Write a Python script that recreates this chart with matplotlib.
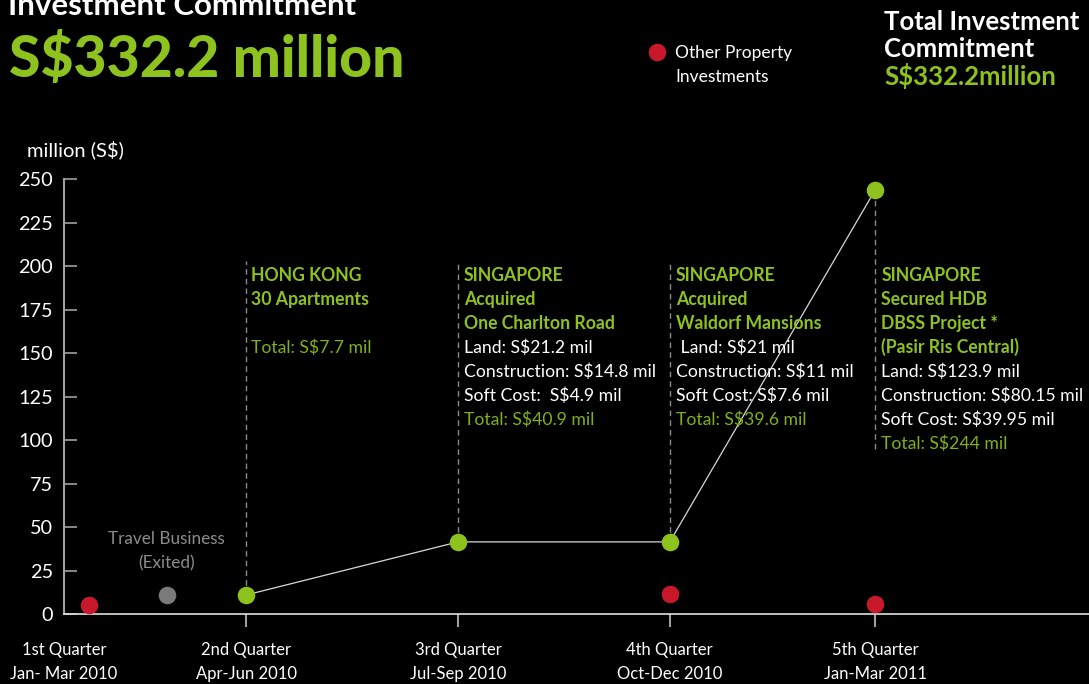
import matplotlib.pyplot as plt
import matplotlib.transforms as mtransforms

plt.rcParams['font.family'] = ['Lato', 'DejaVu Sans']

# data
quarter_labels = ["1st Quarter\nJan- Mar 2010", "2nd Quarter\nApr-Jun 2010",
                  "3rd Quarter\nJul-Sep 2010", "4th Quarter\nOct-Dec 2010",
                  "5th Quarter\nJan-Mar 2011"]
quarter_pos = [1.13, 2, 3.01, 4.02, 5]

property_x = [2, 3.01, 4.02, 5]
property_val = [11, 41.5, 41.5, 244]

other_x = [1.25, 4.02, 5]
other_val = [5, 11.5, 5.5]

travel_x = [1.62]
travel_val = [11]

# annotation blocks: (x, lowest value of the guide, lines)
notes = [
    (2, 10.9, [("HONG KONG", "h"), ("30 Apartments", "h"), ("", "d"),
               ("Total: S$7.7 mil", "t")]),
    (3.01, 41.5, [("SINGAPORE", "h"), ("Acquired", "h"), ("One Charlton Road", "h"),
                  ("Land: S$21.2 mil", "d"), ("Construction: S$14.8 mil", "d"),
                  ("Soft Cost:  S$4.9 mil", "d"), ("Total: S$40.9 mil", "t")]),
    (4.02, 41.5, [("SINGAPORE", "h"), ("Acquired", "h"), ("Waldorf Mansions", "h"),
                  (" Land: S$21 mil", "d"), ("Construction: S$11 mil", "d"),
                  ("Soft Cost: S$7.6 mil", "d"), ("Total: S$39.6 mil", "t")]),
    (5, 95, [("SINGAPORE", "h"), ("Secured HDB", "h"), ("DBSS Project *", "h"),
             ("(Pasir Ris Central)", "h"), ("Land: S$123.9 mil", "d"),
             ("Construction: S$80.15 mil", "d"), ("Soft Cost: S$39.95 mil", "d"),
             ("Total: S$244 mil", "t")]),
]

GREEN = "#8dc21f"
GREEN_DARK = "#7fb01a"
RED = "#c8192b"
GREY = "#7a7a7a"

fig = plt.figure(figsize=(10.89, 6.84), dpi=100, facecolor="black")
ax = fig.add_axes([0.0588, 0.1023, 0.9412, 0.6353], facecolor="black")
ax.set_xlim(1.13, 6.02)
ax.set_ylim(0, 250)

# vertical dashed guides
for x, low, lines in notes:
    top = 203 if x != 5 else 244
    ax.plot([x, x], [low, top], color="#8a8a8a", lw=1, ls=(0, (4, 3)), zorder=1)

ax.plot(property_x, property_val, color="#d8d8d8", lw=0.9, zorder=2)
ax.scatter(property_x, property_val, s=160, color=GREEN, zorder=3, linewidths=0)
ax.scatter(other_x, other_val, s=160, color=RED, zorder=3, linewidths=0)
ax.scatter(travel_x, travel_val, s=160, color=GREY, zorder=3, linewidths=0)

ax.text(travel_x[0], 43.2, "Travel Business", color="#8c8c8c",
        ha="center", va="center", fontsize=12.3)
ax.text(travel_x[0], 29.3, "(Exited)", color="#8c8c8c",
        ha="center", va="center", fontsize=12.3)

styles = {"h": dict(color=GREEN, fontweight="bold"),
          "d": dict(color="white"),
          "t": dict(color=GREEN_DARK)}
for x, low, lines in notes:
    dx = 5 if x == 2 else 6
    trans = ax.transData + mtransforms.ScaledTranslation(dx / 100, 0, fig.dpi_scale_trans)
    for i, (txt, st) in enumerate(lines):
        tr = trans + mtransforms.ScaledTranslation(0, -i * 24 / 100, fig.dpi_scale_trans)
        ax.text(x, 194.8, txt, transform=tr, ha="left", va="center",
                fontsize=12.7, **styles[st])

# axes styling
for s in ("top", "right"):
    ax.spines[s].set_visible(False)
ax.spines["left"].set_color("#a0a0a0")
ax.spines["left"].set_linewidth(1.5)
ax.spines["bottom"].set_color("#e0e0e0")
ax.spines["bottom"].set_linewidth(1.2)

ax.set_yticks(range(0, 251, 25))
ax.tick_params(axis="y", direction="in", length=9.5, width=1.2, colors="#a0a0a0",
               labelcolor="white", labelsize=14.3, pad=8)
ax.set_xticks(quarter_pos)
ax.set_xticklabels(quarter_labels, linespacing=1.65)
ax.tick_params(axis="x", direction="out", length=9, width=1.5, colors="#a0a0a0",
               labelcolor="white", labelsize=12, pad=11)
ax.xaxis.get_major_ticks()[0].tick1line.set_visible(False)

fig.text(27 / 1089, 1 - 150 / 684, "million (S$)", color="white", fontsize=14.5,
         va="center", ha="left")

# headers (the first line is cut by the top edge, as in the source)
fig.text(8 / 1089, 1 - 6 / 684, "Investment Commitment", color="white",
         fontsize=22.5, fontweight="bold", va="center", ha="left")
fig.text(9 / 1089, 1 - 60 / 684, "S$332.2 million", color=GREEN,
         fontsize=41, fontweight="black", va="center", ha="left")

fig.text(884 / 1089, 1 - 22 / 684, "Total Investment", color="white",
         fontsize=18.5, fontweight="bold", va="center", ha="left")
fig.text(884 / 1089, 1 - 49 / 684, "Commitment", color="white",
         fontsize=18.5, fontweight="bold", va="center", ha="left")
fig.text(884 / 1089, 1 - 76 / 684, "S$332.2million", color=GREEN,
         fontsize=18.5, fontweight="bold", va="center", ha="left")

# legend
ax_leg = fig.add_axes([0, 0, 1, 1], facecolor="none")
ax_leg.set_xlim(0, 1089)
ax_leg.set_ylim(684, 0)
ax_leg.axis("off")
ax_leg.scatter([657], [52], s=160, color=RED, linewidths=0)
ax_leg.text(675, 53, "Other Property", color="white", fontsize=12.5, va="center")
ax_leg.text(675, 77, "Investments", color="white", fontsize=12.5, va="center")

fig.savefig("out.png", dpi=100, facecolor="black")
